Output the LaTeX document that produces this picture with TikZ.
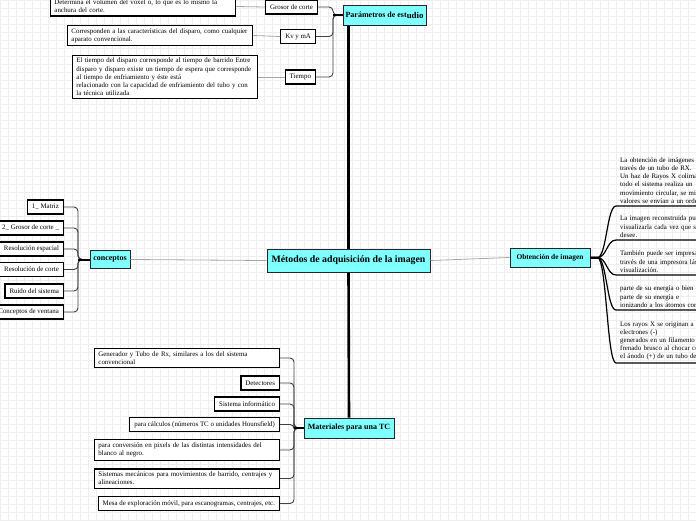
\documentclass[tikz,border=0pt]{standalone}
\usepackage{fontspec}
\setmainfont{Liberation Serif}
\usetikzlibrary{calc, positioning}
\definecolor{temacyan}{RGB}{128,255,255}
\definecolor{rejilla}{RGB}{238,238,238}
\newcommand{\hojafont}{\fontsize{6.9}{8.2}\selectfont}
\tikzset{
    tema/.style={rectangle, draw=black!85, fill=temacyan, line width=1pt, inner sep=2pt, font=\bfseries\fontsize{9.8}{11}\selectfont},
    rama/.style={rectangle, draw=black!85, fill=temacyan, line width=1pt, inner sep=2pt, font=\bfseries\fontsize{8}{9.5}\selectfont},
    hoja/.style={rectangle, draw=black, fill=white, line width=1.1pt, minimum height=14pt, inner xsep=4.5pt, inner ysep=2pt, font=\hojafont},
    nota/.style={hoja, text width=177pt, align=left, inner xsep=4pt, inner ysep=3pt},
    texto/.style={inner xsep=4pt, inner ysep=2.5pt, text width=120pt, align=left, font=\hojafont},
    enlace/.style={gray!70, line width=0.8pt},
    llave/.style={black!75, line width=0.9pt, rounded corners=4pt},
    tallo/.style={black, line width=2pt},
    eje/.style={black, line width=2.6pt},
    curva/.style={black, line width=1.2pt},
}
\begin{document}
\begin{tikzpicture}[x=1pt, y=-1pt]
    \useasboundingbox (0,0) rectangle (696,520);
    \draw[rejilla, line width=0.5pt, step=8pt] (0,0) grid (696,520);

    \node[tema, minimum width=163pt, minimum height=23pt] (metodos) at (348.5,260.5) {Métodos de adquisición de la imagen};
    \node[rama, minimum width=83pt, minimum height=20pt] (param) at (384.5,15) {Parámetros de est\raisebox{-0.8pt}{\fontsize{8.8}{10}\selectfont udio}};
    \node[rama, minimum width=40pt, minimum height=18pt] (conceptos) at (110,259.5) {conceptos};
    \node[rama, minimum width=80pt, minimum height=19pt, font=\bfseries\fontsize{7.4}{9}\selectfont] (obtencion) at (550,257.5) {Obtención de imagen};
    \node[rama, minimum width=90pt, minimum height=20pt] (materiales) at (349,428) {Materiales para una TC};

    % parametros de estudio
    \node[nota, anchor=east] (volumen) at (236,6.5) {Determina el volumen del voxel o, lo que es lo mismo la\\ anchura del corte.};
    \node[hoja, anchor=east] (grosor) at (318,7) {Grosor de corte};
    \node[nota, anchor=east] (disparo) at (253,35.5) {Corresponden a las características del disparo, como cualquier\\ aparato convencional.};
    \node[hoja, anchor=east] (kvma) at (316,36.5) {Kv y mA};
    \node[nota, anchor=east] (espera) at (258,77) {El tiempo del disparo corresponde al tiempo de barrido Entre\\ disparo y disparo existe un tiempo de espera que corresponde\\ al tiempo de enfriamiento y éste está\\ relacionado con la capacidad de enfriamiento del tubo y con\\ la técnica utilizada};
    \node[hoja, anchor=east] (tiempo) at (316,77) {Tiempo};
    \draw[enlace] (volumen.east) -- (grosor.west);
    \draw[enlace] (disparo.east) -- (kvma.west);
    \draw[enlace] (espera.east) -- (tiempo.west);
    \coordinate (phub) at (333,15);
    \foreach \n in {grosor,kvma,tiempo}
        \draw[llave] (\n.east) -| (phub) -- (param.west);
    \draw[tallo] (phub) -- (param.west);

    % eje central
    \draw[eje] (metodos.north) -- (metodos.north |- param.south);
    \draw[eje] (metodos.south) -- (materiales.north);
    \draw[enlace] (conceptos.east) -- (metodos.west);
    \draw[enlace] (metodos.east) -- (obtencion.west);

    % conceptos
    \node[hoja, anchor=east] (matriz) at (64,207) {1\_ Matriz};
    \node[hoja, anchor=east] (grosorc) at (64,228) {2\_ Grosor de corte \_};
    \node[hoja, anchor=east] (espacial) at (64,249) {Resolución espacial};
    \node[hoja, anchor=east] (rcorte) at (64,269.5) {Resolución de corte};
    \node[hoja, anchor=east] (ruido) at (64,291) {Ruido del sistema};
    \node[hoja, anchor=east] (ventana) at (64,312) {Conceptos de ventana};
    \coordinate (chub) at (78,259.5);
    \foreach \n in {matriz,grosorc,espacial,rcorte,ruido,ventana}
        \draw[llave] (\n.east) -| (chub) -- (conceptos.west);
    \draw[tallo] (chub) -- (conceptos.west);

    % materiales
    \node[nota, anchor=east] (generador) at (280,358) {Generador y Tubo de Rx, similares a los del sistema\\ convencional};
    \node[hoja, anchor=east] (detectores) at (280,383) {Detectores};
    \node[hoja, anchor=east] (informatico) at (280,404) {Sistema informático};
    \node[hoja, anchor=east] (calculos) at (280,424.5) {para cálculos (números TC o unidades Hounsfield)};
    \node[nota, anchor=east] (conversion) at (280,450) {para conversión en pixels de las distintas intensidades del\\ blanco al negro.};
    \node[nota, anchor=east] (mecanicos) at (280,478.5) {Sistemas mecánicos para movimientos de barrido, centrajes y\\ alineaciones.};
    \node[hoja, anchor=east] (mesa) at (280,503.5) {Mesa de exploración móvil, para escanogramas, centrajes, etc.};
    \coordinate (mhub) at (294,428);
    \foreach \n in {generador,detectores,informatico,calculos,conversion,mecanicos,mesa}
        \draw[llave] (\n.east) -| (mhub) -- (materiales.west);
    \draw[tallo] (mhub) -- (materiales.west);

    % obtencion de imagen
    \node[texto, anchor=south west] (rayosx) at (616,206) {La obtención de imágenes a\\ través de un tubo de RX.\\ Un haz de Rayos X colimad\\ todo el sistema realiza un\\ movimiento circular, se mi\\ valores se envían a un orde};
    \node[texto, anchor=south west] (reconstruida) at (616,240) {La imagen reconstruida pue\\ visualizarla cada vez que se\\ desee.};
    \node[texto, anchor=south west] (impresa) at (616,275) {También puede ser impresa\\ través de una impresora lás\\ visualización.};
    \node[texto, anchor=south west] (energia) at (616,310) {parte de su energía o bien s\\ parte de su energía e\\ ionizando a los átomos con};
    \node[texto, anchor=south west] (origen) at (616,363) {Los rayos X se originan a p\\ electrones (-)\\ generados en un filamento\\ frenado brusco al chocar co\\ el ánodo (+) de un tubo de};
    \foreach \n in {rayosx,reconstruida,impresa,energia,origen}
        \draw[curva] (obtencion.east) -- ++(7,0) .. controls +(9,0) and +(-9,0) .. (\n.south west) -- (\n.south east);
    \draw[tallo] (obtencion.east) -- ++(7,0);
\end{tikzpicture}
\end{document}
